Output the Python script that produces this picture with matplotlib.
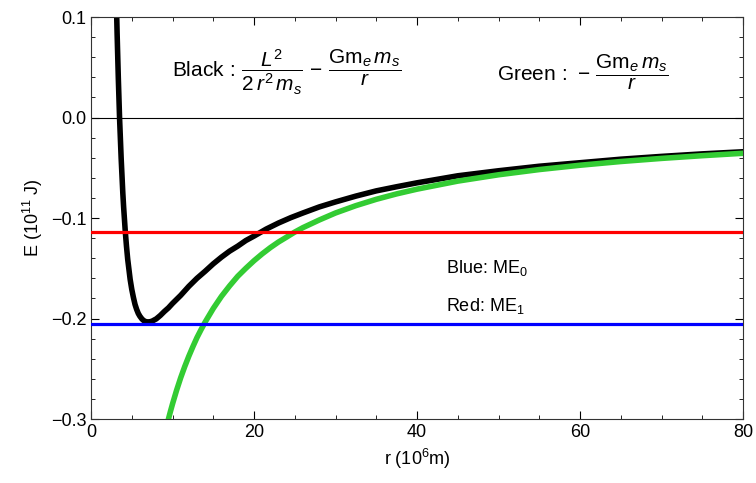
import matplotlib.pyplot as plt
from matplotlib.ticker import MultipleLocator

plt.rcParams.update({"font.family": "Liberation Sans", "font.size": 13,
                     "mathtext.fontset": "custom",
                     "mathtext.rm": "Liberation Sans",
                     "mathtext.it": "Liberation Sans:italic",
                     "mathtext.bf": "Liberation Sans:bold"})

# black curve: effective potential, r in 1e6 m, E in 1e11 J
r_black = [3.05, 3.1, 3.2, 3.35, 3.5, 3.7, 3.9, 4.0, 4.2, 4.35, 4.5, 4.8, 5.0, 5.2,
           5.4, 5.6, 5.8, 6.0, 6.25, 6.5, 6.75, 7.0, 7.25, 7.5, 8, 8.5, 9, 9.5, 10,
           10.5, 11, 12, 13, 14, 15, 16, 17, 18, 19, 20, 21.5, 23, 24.5, 26, 28, 30,
           32.5, 35, 37.5, 40, 45, 50, 55, 60, 65, 70, 75, 80]
e_black = [0.138, 0.119, 0.084, 0.039, 0.000, -0.041, -0.075, -0.089, -0.113, -0.128,
           -0.141, -0.161, -0.171, -0.179, -0.186, -0.191, -0.195, -0.1978, -0.2005,
           -0.2023, -0.2032, -0.2034, -0.2032, -0.2026, -0.2004, -0.197, -0.193,
           -0.1894, -0.185, -0.181, -0.177, -0.168, -0.160, -0.153, -0.1456, -0.139,
           -0.133, -0.128, -0.1224, -0.118, -0.111, -0.105, -0.0997, -0.095, -0.089,
           -0.084, -0.0782, -0.073, -0.0689, -0.065, -0.058, -0.053, -0.0485, -0.045,
           -0.0415, -0.0387, -0.0362, -0.0341]

# green curve: gravitational potential only
r_green = [9.5, 9.75, 10, 10.5, 11, 11.5, 12, 12.5, 13, 13.5, 14, 15, 16, 17, 18, 19,
           20, 21, 22, 23, 24, 25, 26, 28, 30, 32.5, 35, 37.5, 40, 45, 50, 55, 60, 65,
           70, 75, 80]
e_green = [-0.300, -0.2923, -0.285, -0.2714, -0.259, -0.2478, -0.2375, -0.228, -0.219,
           -0.2111, -0.2036, -0.190, -0.178, -0.1676, -0.158, -0.150, -0.1425, -0.1357,
           -0.1295, -0.1239, -0.119, -0.114, -0.1096, -0.102, -0.095, -0.0877, -0.0814,
           -0.076, -0.0713, -0.0633, -0.057, -0.0518, -0.0475, -0.0438, -0.0407,
           -0.038, -0.0356]

me0 = -0.2055   # blue level
me1 = -0.114    # red level

fig = plt.figure(figsize=(7.56, 4.83), dpi=100)
ax = fig.add_axes([0.1204, 0.1325, 0.8624, 0.8323])

ax.axhline(0, color="black", lw=0.8, zorder=1)
ax.plot(r_black, e_black, color="black", lw=4, solid_joinstyle="round",
        solid_capstyle="round", zorder=2)
ax.plot(r_green, e_green, color="#33CC33", lw=4, solid_joinstyle="round", zorder=3)
ax.axhline(me1, color="#FF0000", lw=2.3, zorder=4)
ax.axhline(me0, color="#0000FF", lw=2.3, zorder=4)

ax.text(9.9, 0.045,
        r"Black$\,:\,\dfrac{L^2}{2\,r^2\,m_s}\,-\,\dfrac{\mathrm{Gm}_e\,m_s}{r}$",
        fontsize=15, va="center", ha="left")
ax.text(49.8, 0.045, r"Green$\,:\,-\,\dfrac{\mathrm{Gm}_e\,m_s}{r}$",
        fontsize=15, va="center", ha="left")
ax.text(43.6, -0.150, r"Blue: ME$_0$", fontsize=13, va="center")
ax.text(43.6, -0.188, r"Red: ME$_1$", fontsize=13, va="center")

ax.set_xlim(0, 80)
ax.set_ylim(-0.3, 0.1)
ax.xaxis.set_major_locator(MultipleLocator(20))
ax.xaxis.set_minor_locator(MultipleLocator(5))
ax.yaxis.set_major_locator(MultipleLocator(0.1))
ax.yaxis.set_minor_locator(MultipleLocator(0.02))
ax.yaxis.set_major_formatter(plt.FuncFormatter(lambda v, p: f"{v:.1f}".replace("-", "\u2212")))
ax.tick_params(which="both", direction="in", top=True, right=True, labelsize=13)
ax.tick_params(which="major", length=6)
ax.tick_params(which="minor", length=3)
for s in ax.spines.values():
    s.set_color("#333333")

ax.set_xlabel(r"r (10$^6$m)", fontsize=13)
ax.set_ylabel(r"E (10$^{11}$ J)", fontsize=13)

fig.savefig("out.png", dpi=100)
